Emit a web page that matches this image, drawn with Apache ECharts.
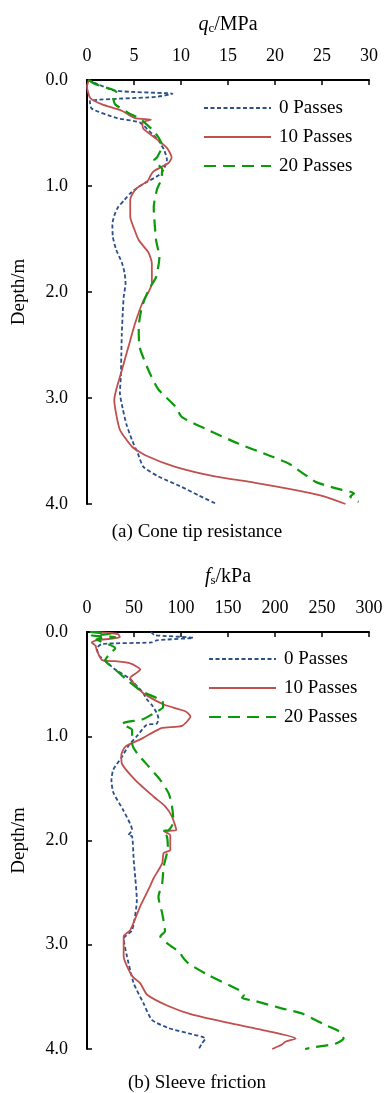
<!DOCTYPE html>
<html>
<head>
<meta charset="utf-8">
<script src="https://cdn.jsdelivr.net/npm/echarts@6/dist/echarts.min.js"></script>
<style>
  html, body { margin: 0; padding: 0; background: #fff; }
  #chart { width: 387px; height: 1093px; }
</style>
</head>
<body>
<div id="chart"></div>
<script>
// ---- Cone tip resistance q_c (MPa) vs depth (m) ----
const qcDepth0 = [0.00, 0.10, 0.13, 0.16, 0.20, 0.27, 0.36, 0.40, 0.48, 0.57, 0.66, 0.75, 0.88, 1.00, 1.07, 1.13, 1.20, 1.28, 1.36, 1.48, 1.60, 1.72, 1.82, 1.92, 2.05, 2.20, 2.40, 2.60, 2.80, 2.95, 3.10, 3.25, 3.40, 3.52, 3.65, 3.74, 3.84, 3.92, 4.00];
const qc0      = [0.1, 3.0, 9.1, 7.3, 0.3, 0.5, 3.2, 5.6, 6.6, 7.6, 8.2, 8.5, 7.9, 5.6, 4.6, 4.0, 3.3, 2.9, 2.7, 2.75, 3.1, 3.7, 4.0, 4.1, 3.9, 3.8, 3.7, 3.65, 3.6, 3.5, 3.8, 4.2, 4.8, 5.4, 6.0, 7.6, 10.1, 11.9, 13.8];

const qcDepth10 = [0.00, 0.06, 0.17, 0.23, 0.29, 0.36, 0.375, 0.40, 0.46, 0.56, 0.64, 0.73, 0.78, 0.86, 0.91, 0.95, 1.02, 1.08, 1.13, 1.29, 1.40, 1.51, 1.63, 1.73, 1.92, 2.00, 2.08, 2.30, 2.52, 2.74, 3.02, 3.15, 3.30, 3.46, 3.54, 3.65, 3.74, 3.80, 3.87, 3.93, 4.00];
const qc10      = [0.2, 0.0, 0.35, 1.6, 3.7, 5.1, 6.8, 5.9, 6.0, 7.45, 8.5, 9.0, 8.7, 7.1, 6.7, 6.5, 5.3, 4.8, 4.6, 4.6, 5.0, 5.5, 6.55, 6.9, 6.9, 6.55, 6.0, 5.1, 4.4, 3.7, 2.9, 3.1, 3.5, 4.8, 6.2, 9.4, 13.6, 17.9, 22.2, 25.3, 27.5];

const qcDepth20 = [0.00, 0.04, 0.09, 0.12, 0.17, 0.23, 0.31, 0.37, 0.465, 0.54, 0.62, 0.73, 0.76, 0.84, 0.94, 1.03, 1.20, 1.51, 1.67, 1.86, 1.98, 2.14, 2.33, 2.52, 2.74, 2.92, 3.08, 3.18, 3.29, 3.43, 3.54, 3.62, 3.79, 3.85, 3.90, 3.93, 3.98];
const qc20      = [0.2, 0.9, 2.7, 3.2, 2.8, 3.0, 4.4, 5.7, 6.9, 7.6, 8.0, 7.45, 7.1, 8.0, 7.9, 7.45, 7.1, 7.35, 7.7, 7.35, 6.55, 5.85, 5.5, 5.6, 6.55, 7.6, 9.4, 10.1, 12.6, 16.1, 19.3, 21.5, 24.3, 26.4, 28.4, 28.0, 28.9];

// ---- Sleeve friction f_s (kPa) vs depth (m) ----
const fsDepth0 = [0.00, 0.03, 0.055, 0.08, 0.10, 0.115, 0.155, 0.22, 0.28, 0.36, 0.44, 0.57, 0.65, 0.70, 0.78, 0.83, 0.88, 0.89, 1.00, 1.08, 1.20, 1.32, 1.42, 1.54, 1.71, 1.90, 1.95, 1.96, 2.19, 2.36, 2.57, 2.86, 2.94, 3.11, 3.37, 3.56, 3.72, 3.80, 3.85, 3.90, 3.95, 4.00];
const fs0      = [68, 72, 113, 74, 69, 16, 10.6, 12.4, 19.5, 30, 44, 58.5, 64, 69, 74.5, 76, 74, 63.5, 53, 45, 37, 28, 26, 28, 38.6, 48, 44, 48, 49.7, 51.4, 53, 48, 39, 42.5, 49.7, 60, 69, 87, 108, 126, 122, 119];

const fsDepth10 = [0.00, 0.02, 0.05, 0.08, 0.10, 0.13, 0.18, 0.27, 0.28, 0.30, 0.36, 0.39, 0.44, 0.49, 0.55, 0.62, 0.70, 0.76, 0.81, 0.90, 0.92, 0.985, 1.03, 1.10, 1.18, 1.26, 1.42, 1.58, 1.67, 1.77, 1.90, 1.91, 1.95, 2.09, 2.12, 2.22, 2.36, 2.44, 2.63, 2.86, 2.92, 3.11, 3.30, 3.37, 3.48, 3.59, 3.67, 3.75, 3.83, 3.90, 3.93, 3.96, 4.00];
const fs10      = [5, 33, 35, 10, 5, 9, 10.6, 16, 30, 46, 56.7, 53, 46, 49.7, 55, 65.6, 83, 104.6, 110, 101, 80, 65.6, 56.7, 40.8, 36.5, 37, 51.4, 71, 83, 90.4, 95, 81.6, 88.6, 88.6, 81.6, 80, 71, 67, 56.7, 46, 39, 39, 48, 56.7, 64, 87, 112, 151, 193, 222, 211, 207, 197];

const fsDepth20 = [0.00, 0.02, 0.035, 0.05, 0.07, 0.155, 0.22, 0.27, 0.36, 0.47, 0.57, 0.66, 0.72, 0.78, 0.84, 0.86, 0.88, 0.94, 1.00, 1.07, 1.16, 1.29, 1.42, 1.55, 1.67, 1.82, 1.90, 1.91, 1.96, 2.07, 2.25, 2.41, 2.54, 2.70, 2.87, 2.92, 3.02, 3.07, 3.11, 3.18, 3.29, 3.40, 3.45, 3.48, 3.51, 3.54, 3.61, 3.66, 3.77, 3.83, 3.90, 3.95, 3.98, 4.00];
const fs20      = [3, 25, 5, 30, 10, 30, 23, 19.5, 30, 44, 58.5, 80, 81, 71, 58.5, 44, 37, 48, 48, 48, 53, 65.6, 78, 87, 90.4, 92, 87, 80, 85, 86, 81.6, 80, 76, 80, 83, 78, 90.4, 99, 101, 108, 129, 154, 165, 167, 165, 179, 207, 229, 253.5, 268, 273, 264, 243, 232];

const seriesNames = ['0 Passes', '10 Passes', '20 Passes'];

const FONT = '"Liberation Serif", "Times New Roman", serif';
const BLUE = '#2B4F8A', RED = '#C0504D', GREEN = '#0A9A0A';

const lineStyles = [
  { color: BLUE, width: 1.8, type: [4, 2.5] },
  { color: RED, width: 1.8, type: 'solid' },
  { color: GREEN, width: 2.2, type: [12, 7] }
];

function pairs(values, depths) {
  return values.map((v, i) => [v, depths[i]]);
}

function makeX(gridIndex, max, interval, nameRich) {
  return {
    type: 'value', gridIndex, position: 'top', min: 0, max, interval,
    name: nameRich, nameLocation: 'middle', nameGap: 45,
    nameTextStyle: {
      fontFamily: FONT, color: '#000',
      rich: {
        i: { fontFamily: FONT, fontSize: 20, fontStyle: 'italic', lineHeight: 24, verticalAlign: 'bottom' },
        s: { fontFamily: FONT, fontSize: 13, lineHeight: 12, verticalAlign: 'bottom' },
        n: { fontFamily: FONT, fontSize: 20, lineHeight: 24, verticalAlign: 'bottom' }
      }
    },
    axisLine: { show: true, onZero: false, lineStyle: { color: '#000', width: 2 } },
    axisTick: { show: true, inside: true, length: 5, lineStyle: { color: '#000', width: 1.5 } },
    axisLabel: { fontFamily: FONT, fontSize: 18, color: '#000', margin: 15 },
    splitLine: { show: false }
  };
}

function makeY(gridIndex) {
  return {
    type: 'value', gridIndex, inverse: true, min: 0, max: 4, interval: 1,
    name: 'Depth/m', nameLocation: 'middle', nameGap: 58, nameRotate: 90,
    nameTextStyle: { fontFamily: FONT, fontSize: 19, color: '#000' },
    axisLine: { show: true, onZero: false, lineStyle: { color: '#000', width: 2 } },
    axisTick: { show: true, inside: true, length: 5, lineStyle: { color: '#000', width: 1.5 } },
    axisLabel: { fontFamily: FONT, fontSize: 18, color: '#000', margin: 19, formatter: v => v.toFixed(1) },
    splitLine: { show: false }
  };
}

function makeSeries(gridIndex, sets) {
  return sets.map((s, k) => ({
    type: 'line', name: seriesNames[k],
    xAxisIndex: gridIndex, yAxisIndex: gridIndex,
    data: pairs(s[0], s[1]),
    showSymbol: false, symbol: 'none', smooth: 0.2,
    lineStyle: lineStyles[k], itemStyle: { color: lineStyles[k].color },
    emphasis: { disabled: true }
  }));
}

// Vertical legend drawn with each series' own line style; the point marker is hidden.
function makeLegend(left, top) {
  return {
    orient: 'vertical', left, top, padding: 0,
    itemWidth: 67, itemHeight: 14, itemGap: 9,
    itemStyle: { opacity: 0 },
    data: seriesNames.map(n => ({ name: n })),
    textStyle: { fontFamily: FONT, fontSize: 19, color: '#000', lineHeight: 20, padding: [0, 0, 0, 3] },
    selectedMode: false
  };
}

const chart = echarts.init(document.getElementById('chart'), null, { renderer: 'canvas' });

chart.setOption({
  animation: false,
  backgroundColor: '#fff',
  grid: [
    { left: 87, top: 80, width: 282, height: 424 },
    { left: 87, top: 632, width: 282, height: 417 }
  ],
  xAxis: [
    makeX(0, 30, 5, '{i|q}{s|c}{n|/MPa}'),
    makeX(1, 300, 50, '{i|f}{s|s}{n|/kPa}')
  ],
  yAxis: [makeY(0), makeY(1)],
  legend: [makeLegend(203, 98), makeLegend(208, 649)],
  series: [
    ...makeSeries(0, [[qc0, qcDepth0], [qc10, qcDepth10], [qc20, qcDepth20]]),
    ...makeSeries(1, [[fs0, fsDepth0], [fs10, fsDepth10], [fs20, fsDepth20]])
  ],
  graphic: [
    { type: 'text', x: 197, y: 532, style: { text: '(a) Cone tip resistance', font: '19px ' + FONT, fill: '#000', align: 'center', verticalAlign: 'middle' } },
    { type: 'text', x: 197, y: 1083, style: { text: '(b) Sleeve friction', font: '19px ' + FONT, fill: '#000', align: 'center', verticalAlign: 'middle' } }
  ]
});
</script>
</body>
</html>
